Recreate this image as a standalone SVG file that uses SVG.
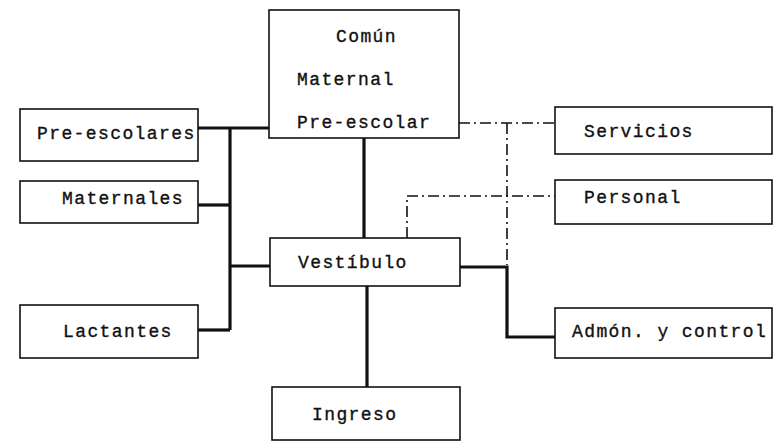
<svg xmlns="http://www.w3.org/2000/svg" width="783" height="447" viewBox="0 0 783 447">
<style>
.box{fill:#fff;stroke:#111;stroke-width:1.6}
.t{font-family:"Liberation Mono","DejaVu Sans Mono",monospace;font-size:18px;letter-spacing:1.4px;fill:#111;stroke:#111;stroke-width:0.35}
.thick{fill:none;stroke:#111;stroke-width:3.2}
.dd{fill:none;stroke:#111;stroke-width:1.6;stroke-dasharray:11 4 2 4}
</style>
<rect width="783" height="447" fill="#fff"/>
<g id="connectors">
<path class="thick" d="M198 128 H269"/>
<path class="thick" d="M230 128 V330"/>
<path class="thick" d="M198 205 H230"/>
<path class="thick" d="M230 266 H270"/>
<path class="thick" d="M198 330 H230"/>
<path class="thick" d="M364 138 V238"/>
<path class="thick" d="M367 286 V387"/>
<path class="thick" d="M460 267 H507 V337 H555"/>
<path class="dd" d="M459 123 H555"/>
<path class="dd" d="M507 123 V265"/>
<path class="dd" d="M407 238 V196 H555"/>
</g>
<g id="comun"><rect class="box" x="269" y="10" width="190" height="128"/>
<text class="t" x="336" y="42">Común</text>
<text class="t" x="297" y="85">Maternal</text>
<text class="t" x="297" y="128">Pre-escolar</text></g>
<g id="preescolares"><rect class="box" x="20" y="109" width="178" height="52"/><text class="t" x="37" y="139">Pre-escolares</text></g>
<g id="maternales"><rect class="box" x="20" y="181" width="178" height="42"/><text class="t" x="62" y="204">Maternales</text></g>
<g id="lactantes"><rect class="box" x="20" y="305" width="178" height="53"/><text class="t" x="63" y="337">Lactantes</text></g>
<g id="vestibulo"><rect class="box" x="270" y="238" width="190" height="48"/><text class="t" x="298" y="268">Vestíbulo</text></g>
<g id="ingreso"><rect class="box" x="272" y="387" width="188" height="53"/><text class="t" x="312" y="420">Ingreso</text></g>
<g id="servicios"><rect class="box" x="555" y="107" width="217" height="47"/><text class="t" x="584" y="137">Servicios</text></g>
<g id="personal"><rect class="box" x="555" y="180" width="217" height="44"/><text class="t" x="584" y="203">Personal</text></g>
<g id="admon"><rect class="box" x="555" y="308" width="217" height="50"/><text class="t" x="572" y="337">Admón. y control</text></g>
</svg>
